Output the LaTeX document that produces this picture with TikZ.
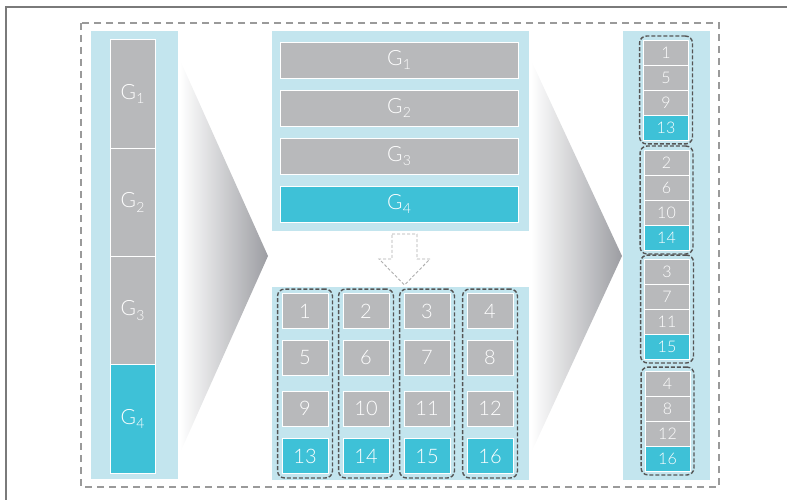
\documentclass[tikz,border=0pt]{standalone}
\usepackage{fontspec}
\setmainfont{Lato}[UprightFont=* Light]
\usetikzlibrary{fit}
\definecolor{panel}{HTML}{C3E5EE}
\definecolor{boxgray}{HTML}{B8B9BB}
\definecolor{boxcyan}{HTML}{3EC1D7}
\definecolor{framegray}{HTML}{7A7A7A}
\definecolor{dashgray}{HTML}{9A9A9A}
\definecolor{grpgray}{HTML}{555555}
\definecolor{shadegray}{HTML}{9C9DA2}
\newcommand\Gsub[1]{G\kern0.3pt\raisebox{-0.45ex}{\fontsize{14}{14}\selectfont #1}}
\tikzset{
  cell/.style={draw=white, line width=0.9pt, inner sep=0pt, text=white},
  gcell/.style={cell, fill=boxgray},
  ccell/.style={cell, fill=boxcyan},
  bigfont/.style={font=\fontsize{21}{21}\selectfont},
  midfont/.style={font=\fontsize{20}{20}\selectfont},
  smallfont/.style={font=\fontsize{16}{16}\selectfont},
  grp/.style={draw=grpgray, line width=1.4pt, dash pattern=on 4pt off 2pt, rounded corners=7pt, inner sep=4pt},
}
\begin{document}
\begin{tikzpicture}[x=1pt,y=-1pt]
\useasboundingbox (0,0) rectangle (787,500);
% outer frame
\draw[framegray, line width=1.3pt] (6,500) -- (6,7) -- (787,7);
% dashed outer rectangle
\draw[dashgray, line width=1.3pt, dash pattern=on 7pt off 5pt] (81,23) rectangle (719,487);
% panels
\fill[panel] (91,31) rectangle (178,479);
\fill[panel] (272,31) rectangle (529,231);
\fill[panel] (272,287) rectangle (529,480);
\fill[panel] (623,31) rectangle (710,480);
% gradient arrows
\shade[left color=white, right color=shadegray] (180,60) -- (268,256) -- (180,453) -- cycle;
\shade[left color=white, right color=shadegray] (531,60) -- (622,256) -- (531,453) -- cycle;
% left tall bars
\foreach \i/\y/\s in {1/94.1/gcell,2/202.4/gcell,3/310.6/gcell,4/418.9/ccell}
  \node[\s, bigfont, minimum width=45pt, minimum height=108.3pt] (L\i) at (132.5,\y) {\Gsub{\i}};
% middle top bars
\foreach \i/\y/\s in {1/60/gcell,2/108/gcell,3/156/gcell,4/204/ccell}
  \node[\s, bigfont, minimum width=238pt, minimum height=36pt] (M\i) at (399,\y) {\Gsub{\i}};
% hollow dashed arrow
\draw[dashgray!80, fill=white, line width=0.9pt, dash pattern=on 3pt off 2pt]
  (392,234) -- (417,234) -- (417,259) -- (430,259) -- (404.5,285) -- (379,259) -- (392,259) -- cycle;
% middle bottom grid
\foreach \c/\x in {1/305,2/366,3/427,4/490}{
  \foreach \r/\y in {1/311,2/357.5,3/408.5}{
    \pgfmathtruncatemacro\n{(\r-1)*4+\c}
    \node[gcell, midfont, minimum width=46pt, minimum height=35pt] (B\n) at (\x,\y) {\n};
  }
  \pgfmathtruncatemacro\n{12+\c}
  \node[ccell, midfont, minimum width=46pt, minimum height=35pt] (B\n) at (\x,456) {\n};
}
\node[grp, fit=(B1)(B13)] (GB1) {};
\node[grp, fit=(B2)(B14)] (GB2) {};
\node[grp, fit=(B3)(B15)] (GB3) {};
\node[grp, fit=(B4)(B16)] (GB4) {};
% right column
\foreach \g/\ys/\x in {1/40/666,2/150/666.5,3/259/667,4/371/667.5}{
  \foreach \r in {1,2,3}{
    \pgfmathtruncatemacro\n{(\r-1)*4+\g}
    \node[gcell, smallfont, minimum width=45pt, minimum height=25pt] (R\n) at (\x,{\ys+12.5+(\r-1)*25}) {\n};
  }
  \pgfmathtruncatemacro\n{12+\g}
  \node[ccell, smallfont, minimum width=45pt, minimum height=25pt] (R\n) at (\x,{\ys+87.5}) {\n};
}
\node[grp, inner sep=3.5pt, fit=(R1)(R13)] (GR1) {};
\node[grp, inner sep=3.5pt, fit=(R2)(R14)] (GR2) {};
\node[grp, inner sep=3.5pt, fit=(R3)(R15)] (GR3) {};
\node[grp, inner sep=3.5pt, fit=(R4)(R16)] (GR4) {};
\end{tikzpicture}
\end{document}
